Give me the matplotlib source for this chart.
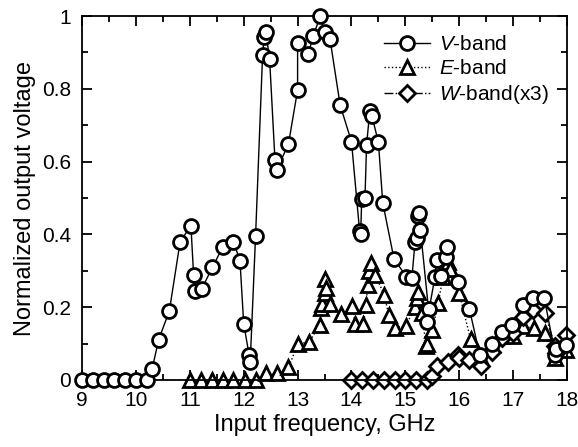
#plot normalized output voltage vs input frequency
import numpy as np
import matplotlib
matplotlib.use('Agg')
import matplotlib.pyplot as plt
from matplotlib.ticker import MultipleLocator, FuncFormatter

plt.rcParams['font.family'] = ['Liberation Sans', 'DejaVu Sans']
plt.rcParams['mathtext.fontset'] = 'custom'
plt.rcParams['mathtext.rm'] = 'Liberation Sans'
plt.rcParams['mathtext.it'] = 'Liberation Sans:italic'

# V-band
fV = [9.0, 9.2, 9.4, 9.6, 9.8, 10.0, 10.2, 10.3, 10.42, 10.62, 10.82, 11.02, 11.07, 11.1,
      11.22, 11.42, 11.61, 11.81, 11.93, 12.0, 12.1, 12.12, 12.22, 12.35, 12.38, 12.41,
      12.48, 12.58, 12.61, 12.83, 13.0, 13.0, 13.2, 13.29, 13.42, 13.5, 13.6, 13.79, 14.0,
      14.15, 14.17, 14.19, 14.25, 14.28, 14.34, 14.38, 14.5, 14.58, 14.79, 15.02, 15.12,
      15.18, 15.21, 15.24, 15.26, 15.28, 15.43, 15.40, 15.55, 15.58, 15.67, 15.75, 15.78,
      15.97, 16.19, 16.38, 16.6, 16.79, 16.98, 17.18, 17.37, 17.58, 17.78, 17.8, 17.99]
vV = [0, 0, 0, 0, 0, 0, 0, 0.03, 0.11, 0.19, 0.38, 0.424, 0.288, 0.245,
      0.25, 0.31, 0.365, 0.38, 0.328, 0.154, 0.069, 0.048, 0.396, 0.893, 0.943, 0.955,
      0.883, 0.604, 0.577, 0.648, 0.797, 0.925, 0.897, 0.945, 1.0, 0.957, 0.938, 0.755, 0.655,
      0.41, 0.40, 0.496, 0.499, 0.646, 0.739, 0.725, 0.653, 0.487, 0.332, 0.284, 0.279,
      0.38, 0.389, 0.45, 0.458, 0.412, 0.194, 0.16, 0.284, 0.33, 0.286, 0.337, 0.365,
      0.27, 0.194, 0.069, 0.1, 0.133, 0.151, 0.206, 0.224, 0.224, 0.069, 0.085, 0.096]

# E-band
fE = [11.0, 11.2, 11.41, 11.61, 11.81, 12.02, 12.22, 12.41, 12.61, 12.83, 13.01, 13.22,
      13.41, 13.44, 13.46, 13.5, 13.51, 13.53, 13.6, 13.81, 14.01, 14.07, 14.22, 14.27,
      14.3, 14.33, 14.36, 14.44, 14.61, 14.69, 14.8, 15.01, 15.18, 15.21, 15.23, 15.3,
      15.39, 15.4, 15.5, 15.61, 15.7, 15.8, 15.83, 16.0, 16.21, 16.4, 16.6, 16.8, 17.0,
      17.19, 17.38, 17.59, 17.78, 17.99]
vE = [0, 0, 0, 0, 0, 0, 0, 0.018, 0.018, 0.035, 0.099, 0.105,
      0.152, 0.197, 0.21, 0.277, 0.238, 0.252, 0.208, 0.182, 0.203, 0.153, 0.153, 0.205,
      0.26, 0.3, 0.322, 0.288, 0.234, 0.179, 0.143, 0.149, 0.201, 0.224, 0.242, 0.183,
      0.092, 0.1, 0.137, 0.212, 0.284, 0.325, 0.304, 0.238, 0.112, 0.06, 0.095, 0.12, 0.12,
      0.147, 0.142, 0.129, 0.06, 0.082]

# W-band (x3)
fW = [14.0, 14.2, 14.4, 14.6, 14.8, 15.0, 15.19, 15.4, 15.5, 15.59, 15.8, 15.98, 16.0,
      16.19, 16.41, 16.6, 16.8, 17.0, 17.19, 17.37, 17.59, 17.78, 17.8, 17.99]
vW = [0, 0, 0, 0, 0, 0, 0, 0, 0.01, 0.037, 0.05, 0.069, 0.06,
      0.055, 0.037, 0.078, 0.114, 0.128, 0.174, 0.192, 0.183, 0.092, 0.075, 0.124]

fig = plt.figure(figsize=(5.78, 4.47), dpi=100)
ax = fig.add_axes([0.142, 0.150, 0.839, 0.814])

mk = dict(color='k', mfc='white', mec='k', mew=2.0, lw=1.0, markersize=10, clip_on=False)
ax.plot(fV, vV, '-', marker='o', label='$V$-band', zorder=3, **mk)
ax.plot(fE, vE, ':', marker='^', label='$E$-band', zorder=2, **mk)
ax.plot(fW, vW, '-.', marker='D', label='$W$-band(x3)', zorder=2,
        **dict(mk, markersize=8.5))

ax.set_xlim(9, 18)
ax.set_ylim(0, 1)
ax.xaxis.set_major_locator(MultipleLocator(1))
ax.xaxis.set_minor_locator(MultipleLocator(0.5))
ax.yaxis.set_major_locator(MultipleLocator(0.2))
ax.yaxis.set_minor_locator(MultipleLocator(0.1))
ax.yaxis.set_major_formatter(FuncFormatter(lambda v, p: '%g' % round(v, 2)))
ax.tick_params(which='both', direction='in', top=True, right=True, labelsize=15, width=1.3)
ax.tick_params(which='major', length=7, pad=8)
ax.tick_params(which='minor', length=4)
for s in ax.spines.values():
    s.set_linewidth(1.3)

ax.set_xlabel('Input frequency, GHz', fontsize=17, labelpad=3)
ax.set_ylabel('Normalized output voltage', fontsize=17, labelpad=4)

ax.legend(loc='upper right', bbox_to_anchor=(1.0, 1.0), frameon=False, fontsize=15,
          handlelength=2.2, handletextpad=0.4, labelspacing=0.25, borderaxespad=0.5)

fig.savefig('out.png', dpi=100)
